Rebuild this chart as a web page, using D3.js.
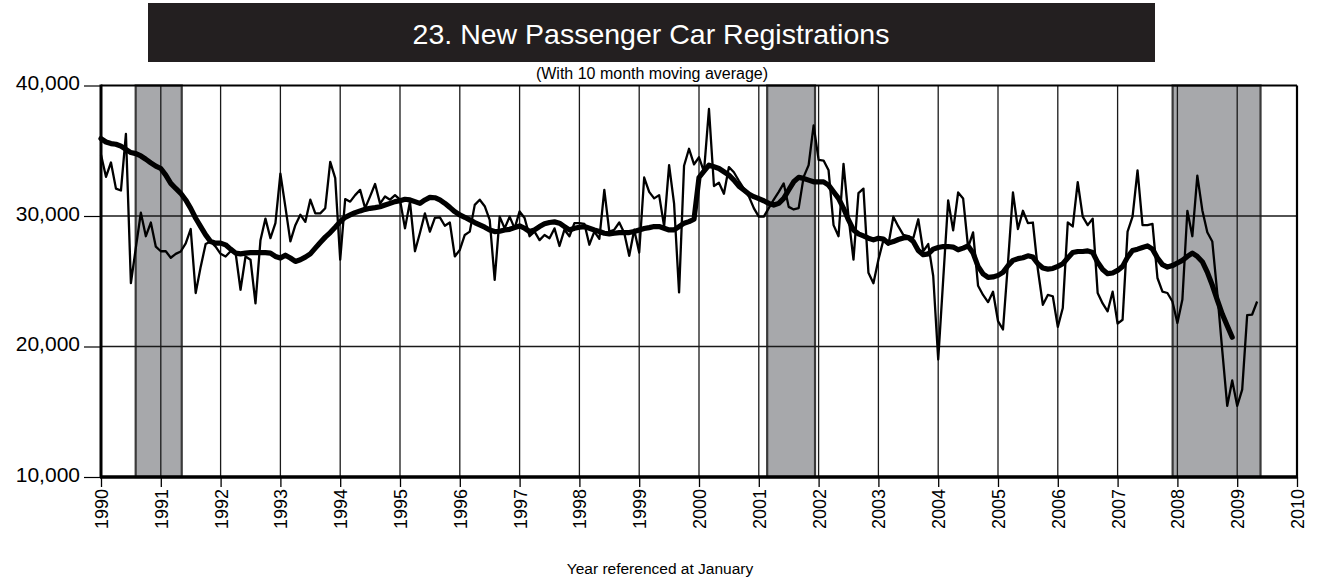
<!DOCTYPE html>
<html>
<head>
<meta charset="utf-8">
<script src="https://cdn.jsdelivr.net/npm/d3@7"></script>
<style>
  body { margin: 0; background: #fff; }
  svg { display: block; }
  text { font-family: "Liberation Sans", Arial, Helvetica, sans-serif; }
</style>
</head>
<body>
<svg id="chart" width="1318" height="577"></svg>
<script>
// Monthly new passenger car registrations, January 1990 onward
const startYear = 1990;
const registrations = [
  34700, 33000, 34100, 32100, 31950, 36300, 24850, 27600, 30250, 28450, 29500, 27650, // 1990
  27300, 27300, 26800, 27100, 27280, 27900, 29000, 24100, 26100, 27850, 28050, 27650, // 1991
  27100, 26900, 27300, 27200, 24350, 26900, 26650, 23300, 28150, 29800, 28300, 29450, // 1992
  33250, 30700, 28050, 29300, 30100, 29550, 31250, 30200, 30200, 30600, 34150, 32900, // 1993
  26650, 31300, 31100, 31600, 32000, 30600, 31500, 32450, 30950, 31500, 31250, 31600, // 1994
  31250, 29050, 31100, 27300, 28700, 30200, 28800, 29850, 29900, 29250, 29500, 26900, // 1995
  27400, 28550, 28800, 30850, 31250, 30750, 29700, 25100, 29950, 29050, 29950, 29050, // 1996
  30350, 29850, 28450, 28800, 28150, 28550, 28300, 29050, 27700, 28950, 28450, 29450, // 1997
  29450, 29400, 27800, 28800, 28250, 32000, 28800, 28950, 29500, 28700, 26950, 28950, // 1998
  27200, 32950, 31850, 31350, 31600, 29200, 33900, 30950, 24150, 33850, 35150, 33950, // 1999
  34500, 33400, 38200, 32300, 32550, 31700, 33750, 33350, 32700, 32100, 31500, 30600, // 2000
  29950, 29950, 30600, 31250, 31850, 32500, 30700, 30500, 30600, 33000, 33900, 36950, // 2001
  34300, 34250, 33500, 29300, 28450, 34000, 29950, 26650, 31750, 32100, 25650, 24850, // 2002
  26650, 28150, 27800, 29950, 29200, 28550, 28450, 28300, 29750, 27300, 27850, 25400, // 2003
  19000, 25100, 31200, 28900, 31800, 31350, 27600, 28750, 24650, 23950, 23400, 24200, // 2004
  21950, 21300, 26400, 31800, 29000, 30400, 29450, 29500, 25900, 23200, 23950, 23850, // 2005
  21500, 22950, 29500, 29200, 32600, 29950, 29300, 29800, 24100, 23300, 22700, 24200, // 2006
  21750, 22050, 28800, 29950, 33500, 29300, 29300, 29400, 25250, 24200, 24100, 23450, // 2007
  21800, 23600, 30400, 28450, 33100, 30450, 28750, 28050, 24100, 19700, 15450, 17400, // 2008
  15450, 16700, 22400, 22450, 23450                                                  // 2009
];

// Published 10 month moving average, same monthly start
const movingAverage = [
  35930, 35670, 35550, 35500, 35350, 35100, 34860, 34780, 34600, 34350, 34070, 33820, // 1990
  33640, 33130, 32500, 32110, 31740, 31230, 30590, 29830, 29190, 28550, 28040, 27920, // 1991
  27920, 27790, 27460, 27160, 27100, 27160, 27200, 27200, 27200, 27200, 27160, 26900, // 1992
  26780, 27000, 26780, 26520, 26650, 26850, 27100, 27540, 27970, 28380, 28730, 29140, // 1993
  29570, 29900, 30080, 30260, 30390, 30510, 30590, 30640, 30710, 30840, 30970, 31100, // 1994
  31170, 31280, 31230, 31100, 30970, 31230, 31430, 31400, 31230, 30970, 30660, 30330, // 1995
  30080, 29900, 29700, 29500, 29320, 29140, 28930, 28810, 28830, 28930, 28980, 29110, // 1996
  29240, 29060, 28810, 28930, 29190, 29400, 29500, 29550, 29450, 29190, 28930, 29060, // 1997
  29140, 29190, 29060, 28930, 28810, 28680, 28630, 28680, 28730, 28730, 28730, 28810, // 1998
  28930, 29040, 29110, 29190, 29190, 29060, 28930, 28930, 29190, 29450, 29570, 29750, // 1999
  32950, 33430, 33900, 33770, 33640, 33390, 33130, 32750, 32290, 31990, 31680, 31480, // 2000
  31330, 31170, 30970, 30840, 30970, 31350, 31990, 32620, 32960, 32880, 32750, 32620, // 2001
  32620, 32620, 32370, 31860, 31350, 30590, 29700, 28930, 28630, 28480, 28300, 28170, // 2002
  28300, 28230, 27920, 28040, 28200, 28320, 28350, 28040, 27360, 27030, 27100, 27460, // 2003
  27590, 27660, 27660, 27620, 27410, 27540, 27710, 27160, 26140, 25560, 25300, 25330, // 2004
  25450, 25680, 26190, 26600, 26730, 26800, 26950, 26850, 26340, 26010, 25930, 25980, // 2005
  26140, 26340, 26780, 27200, 27280, 27280, 27330, 27200, 26450, 25900, 25580, 25630, // 2006
  25830, 26140, 26850, 27360, 27460, 27590, 27710, 27460, 26780, 26270, 26090, 26200, // 2007
  26400, 26600, 26900, 27160, 26900, 26500, 25700, 24700, 23570, 22490, 21590, 20710  // 2008
];

const yearTicks = d3.range(1990, 2011);
const valueTicks = [10000, 20000, 30000, 40000];
const gridValues = [20000, 30000];
const recessionStart = [1990.58, 2001.14, 2007.92];
const recessionEnd = [1991.35, 2001.94, 2009.39];

const titleText = "23. New Passenger Car Registrations";
const subtitleText = "(With 10 month moving average)";
const xAxisTitle = "Year referenced at January";

const svg = d3.select("#chart");
const plotLeft = 101, plotRight = 1297, plotTop = 85.5, plotBottom = 477;

const x = d3.scaleLinear().domain([1990, 2010]).range([plotLeft, plotRight]);
const y = d3.scaleLinear().domain([10000, 40000]).range([plotBottom, plotTop]);
const monthX = i => x(startYear + i / 12);

svg.append("rect").attr("width", 1318).attr("height", 577).attr("fill", "#fff");

// Title banner
svg.append("rect")
  .attr("x", 148).attr("y", 3).attr("width", 1007).attr("height", 59)
  .attr("fill", "#231f20");
svg.append("text")
  .attr("x", 651).attr("y", 44)
  .attr("text-anchor", "middle")
  .attr("fill", "#fff")
  .style("font-size", "28.5px")
  .text(titleText);
svg.append("text")
  .attr("x", 652).attr("y", 79)
  .attr("text-anchor", "middle")
  .attr("fill", "#000")
  .style("font-size", "16px")
  .text(subtitleText);

// Recession bands
svg.append("g").selectAll("rect")
  .data(recessionStart.map((s, i) => [s, recessionEnd[i]]))
  .join("rect")
  .attr("x", d => x(d[0]))
  .attr("width", d => x(d[1]) - x(d[0]))
  .attr("y", y(40000))
  .attr("height", y(10000) - y(40000))
  .attr("fill", "#a7a8ab")
  .attr("stroke", "#3a3a3a")
  .attr("stroke-width", 2.2);

// Grid
const grid = svg.append("g").attr("stroke", "#1a1a1a").attr("stroke-width", 1.3);
grid.selectAll("line.v")
  .data(yearTicks.filter(t => t > 1990 && t < 2010))
  .join("line").attr("class", "v")
  .attr("x1", d => x(d)).attr("x2", d => x(d))
  .attr("y1", y(40000)).attr("y2", y(10000));
grid.selectAll("line.h")
  .data(gridValues)
  .join("line").attr("class", "h")
  .attr("x1", plotLeft).attr("x2", plotRight)
  .attr("y1", d => y(d)).attr("y2", d => y(d));

// Series
const line = d3.line().x((d, i) => monthX(i)).y(d => y(d));
svg.append("path")
  .datum(registrations)
  .attr("d", line)
  .attr("fill", "none")
  .attr("stroke", "#000")
  .attr("stroke-width", 2.3)
  .attr("stroke-linejoin", "round");
svg.append("path")
  .datum(movingAverage)
  .attr("d", line)
  .attr("fill", "none")
  .attr("stroke", "#000")
  .attr("stroke-width", 5.2)
  .attr("stroke-linejoin", "round")
  .attr("stroke-linecap", "round");

// Frame
svg.append("line").attr("x1", plotLeft).attr("x2", plotRight).attr("y1", plotTop).attr("y2", plotTop)
  .attr("stroke", "#000").attr("stroke-width", 2.2);
svg.append("line").attr("x1", plotRight).attr("x2", plotRight).attr("y1", plotTop).attr("y2", plotBottom)
  .attr("stroke", "#000").attr("stroke-width", 2.2);

// Axes
const yAxis = svg.append("g")
  .attr("transform", `translate(${plotLeft},0)`)
  .call(d3.axisLeft(y).tickValues(valueTicks).tickFormat(d3.format(",")).tickSize(17).tickPadding(4));
yAxis.select(".domain").remove();
yAxis.selectAll(".tick line").attr("stroke", "#000").attr("stroke-width", 1.2);
yAxis.selectAll(".tick text")
  .attr("fill", "#000")
  .attr("dy", "0.2em")
  .style("font-size", "21px");

const xAxis = svg.append("g")
  .attr("transform", `translate(0,${plotBottom})`)
  .call(d3.axisBottom(x).tickValues(yearTicks).tickFormat(d3.format("d")).tickSize(10));
xAxis.select(".domain").remove();
xAxis.selectAll(".tick line").attr("stroke", "#000").attr("stroke-width", 1.3);
xAxis.selectAll(".tick text")
  .attr("fill", "#000")
  .attr("transform", "rotate(-90)")
  .attr("x", -12).attr("y", 0).attr("dy", "0.36em")
  .style("text-anchor", "end")
  .style("font-size", "18px");

svg.append("line").attr("x1", plotLeft).attr("x2", plotLeft).attr("y1", plotTop - 1).attr("y2", plotBottom + 1)
  .attr("stroke", "#000").attr("stroke-width", 3);
svg.append("line").attr("x1", plotLeft - 1).attr("x2", plotRight + 1).attr("y1", plotBottom).attr("y2", plotBottom)
  .attr("stroke", "#000").attr("stroke-width", 3.5);

svg.append("text")
  .attr("x", 660).attr("y", 574)
  .attr("text-anchor", "middle")
  .attr("fill", "#000")
  .style("font-size", "15.5px")
  .text(xAxisTitle);
</script>
</body>
</html>
